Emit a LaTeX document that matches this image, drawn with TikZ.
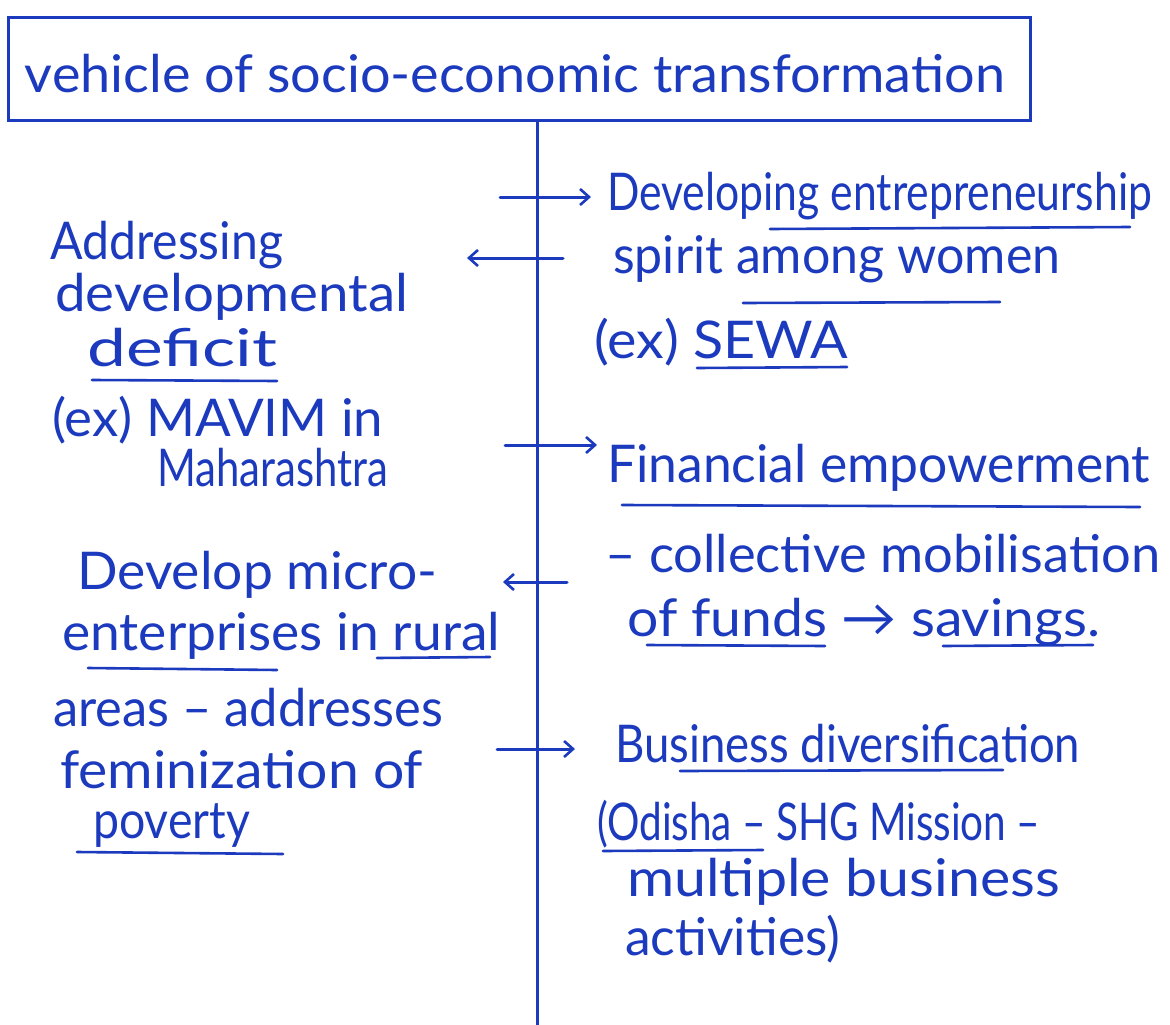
\documentclass[tikz,border=0pt]{standalone}
\usepackage{fontspec}
\usepackage{graphicx}
\setmainfont{Lato}
\usetikzlibrary{arrows.meta}
\definecolor{ink}{RGB}{28,58,190}
% set a line of text to a given width, keeping its natural height
\newcommand{\hw}[2]{\resizebox{#1pt}{\height}{#2}}
\tikzset{
  txt/.style={anchor=base west, inner sep=0pt, text=ink, font=\fontsize{52}{56}\selectfont},
  pen/.style={draw=ink, line width=3pt, line cap=round},
  uline/.style={draw=ink, line width=2.6pt, line cap=round},
  arr/.style={pen, -{Straight Barb[length=9pt,width=16pt,line width=2.6pt]}}
}
\begin{document}
\begin{tikzpicture}[x=1pt,y=-1pt]
\useasboundingbox (0,0) rectangle (1170,1025);
\fill[white] (0,0) rectangle (1170,1025);

% heading box and its text
\node[pen, rectangle, minimum width=1022pt, minimum height=102pt, inner sep=0pt]
  (titlebox) at (519,69) {};
\node[txt, anchor=base] (title) at (515,93)
  {\hw{980}{vehicle of socio-economic transformation}};

% central spine
\coordinate (spinebot) at (537,1025);
\draw[pen] (titlebox.south -| spinebot) -- (spinebot);

% right column (positions are baselines)
\node[txt] (r1) at (607,210) {\hw{545}{Developing entrepreneurship}};
\node[txt] (r2) at (613,273) {\hw{447}{spirit among women}};
\node[txt] (r3) at (594,358) {\hw{254}{(ex) SEWA}};
\node[txt] (r4) at (607,482) {\hw{543}{Financial empowerment}};
\node[txt] (r5) at (605,572) {\hw{555}{– collective mobilisation}};
\node[txt] (r6) at (627,636) {\hw{473}{of funds → savings.}};
\node[txt] (r7) at (615,762) {\hw{465}{Business diversification}};
\node[txt] (r8) at (597,840) {\hw{443}{(Odisha – SHG Mission –}};
\node[txt] (r9) at (627,896) {\hw{433}{multiple business}};
\node[txt] (r10) at (625,955) {\hw{215}{activities)}};

% left column
\node[txt] (l1) at (50,259) {\hw{233}{Addressing}};
\node[txt] (l2) at (55,311) {\hw{353}{developmental}};
\node[txt] (l3) at (87,366) {\hw{190}{deficit}};
\node[txt] (l4) at (52,436) {\hw{331}{(ex) MAVIM in}};
\node[txt] (l5) at (157,486) {\hw{231}{Maharashtra}};
\node[txt] (l6) at (77,589) {\hw{360}{Develop micro-}};
\node[txt] (l7) at (62,650) {\hw{438}{enterprises in rural}};
\node[txt] (l8) at (53,726) {\hw{390}{areas – addresses}};
\node[txt] (l9) at (60,788) {\hw{363}{feminization of}};
\node[txt] (l10) at (93,838) {\hw{157}{poverty}};

% arrows across the spine
\coordinate (a1) at (500,197);
\coordinate (a1tip) at (591,197);
\coordinate (a2) at (563,258);
\coordinate (a2tip) at (467,258);
\coordinate (a3) at (505,445);
\coordinate (a3tip) at (597,445);
\coordinate (a4) at (567,582);
\coordinate (a4tip) at (503,582);
\coordinate (a5) at (497,749);
\coordinate (a5tip) at (575,749);
\draw[arr] (a1) -- (a1tip);
\draw[arr] (a2) -- (a2tip);
\draw[arr] (a3) -- (a3tip);
\draw[arr] (a4) -- (a4tip);
\draw[arr] (a5) -- (a5tip);

% underlines
\draw[uline] (770,229) -- (1130,227);
\draw[uline] (743,303) -- (1000,302);
\draw[uline] (697,368) -- (847,367);
\draw[uline] (92,380) -- (277,381);
\draw[uline] (622,505) -- (1140,507);
\draw[uline] (647,645) -- (825,646);
\draw[uline] (943,646) -- (1093,645);
\draw[uline] (88,668) -- (277,670);
\draw[uline] (377,658) -- (490,657);
\draw[uline] (680,771) -- (1003,770);
\draw[uline] (603,851) -- (763,850);
\draw[uline] (77,852) -- (283,854);
\end{tikzpicture}
\end{document}
